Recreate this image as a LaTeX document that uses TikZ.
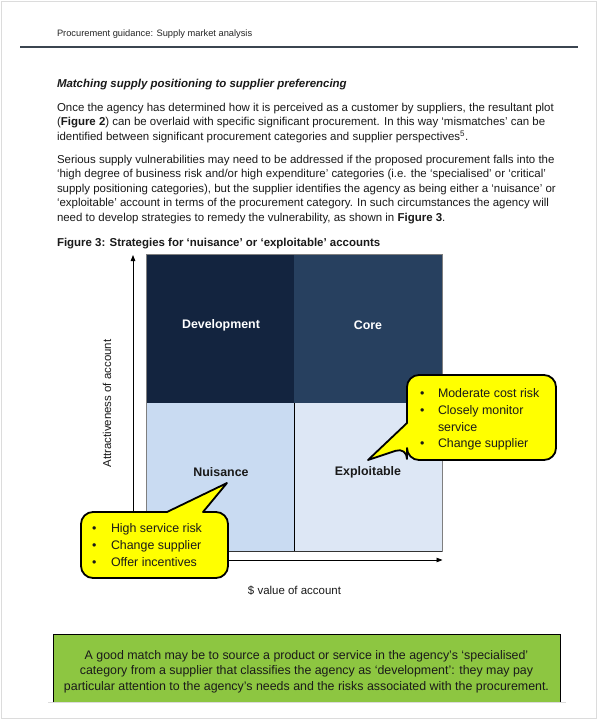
\documentclass[tikz,border=0pt]{standalone}
\usepackage{fontspec}
\setmainfont{Liberation Sans}
\usetikzlibrary{arrows.meta}
\definecolor{devc}{HTML}{13243F}
\definecolor{corec}{HTML}{27405F}
\definecolor{nuic}{HTML}{C9DBF2}
\definecolor{expc}{HTML}{DDE7F5}
\definecolor{calloutc}{HTML}{FFFF00}
\definecolor{greenc}{HTML}{8DC641}
\definecolor{rulec}{HTML}{3B4550}
\definecolor{framec}{HTML}{DCDCDC}
\definecolor{txt}{HTML}{1A1A1A}
\definecolor{quadborder}{HTML}{7F7F7F}
\begin{document}
\begin{tikzpicture}[x=1pt,y=-1pt,
  textline/.style={anchor=base west, inner sep=0pt, outer sep=0pt, text=txt, font=\fontsize{11.46}{13}\selectfont},
  headline/.style={textline, font=\fontsize{9.3}{11}\selectfont, text=black!85},
  calline/.style={anchor=base west, inner sep=0pt, outer sep=0pt, text=txt, font=\fontsize{12.4}{14}\selectfont},
  quadlabel/.style={inner sep=0pt, font=\bfseries\fontsize{12.4}{14}\selectfont},
  quad/.style={draw=none, inner sep=0pt, minimum width=147.5pt, minimum height=148pt},
  axisline/.style={draw=black, line width=0.8pt, -{Triangle[length=6pt,width=4.5pt]}},
  callout/.style={draw=black, fill=calloutc, line width=1.8pt, line join=round},
]
\useasboundingbox (0,0) rectangle (600,720);
\fill[white] (0,0) rectangle (600,720);
\draw[framec, line width=1pt] (1,1) rectangle (596.5,718);

% header
\node[headline] (hdr) at (57,36.5) {Procurement guidance: Supply market analysis};
\coordinate (ruleL) at (20,47);
\coordinate (ruleR) at (578,47);
\draw[rulec, line width=1.2pt] (ruleL) -- (ruleR);

% heading and paragraphs
\node[textline] (head) at (57,87) {\textbf{\textit{Matching supply positioning to supplier preferencing}}};
\node[textline] (p1a) at (57,111) {Once the agency has determined how it is perceived as a customer by suppliers, the resultant plot};
\node[textline] (p1b) at (57,125.5) {(\textbf{Figure 2}) can be overlaid with specific significant procurement. In this way ‘mismatches’ can be};
\node[textline] (p1c) at (57,140) {identified between significant procurement categories and supplier perspectives\textsuperscript{5}.};
\node[textline] (p2a) at (57,163) {Serious supply vulnerabilities may need to be addressed if the proposed procurement falls into the};
\node[textline] (p2b) at (57,177.5) {‘high degree of business risk and/or high expenditure’ categories (i.e. the ‘specialised’ or ‘critical’};
\node[textline] (p2c) at (57,192) {supply positioning categories), but the supplier identifies the agency as being either a ‘nuisance’ or};
\node[textline] (p2d) at (57,206.5) {‘exploitable’ account in terms of the procurement category. In such circumstances the agency will};
\node[textline] (p2e) at (57,221) {need to develop strategies to remedy the vulnerability, as shown in \textbf{Figure 3}.};
\node[textline] (cap) at (57,246) {\textbf{Figure 3: Strategies for ‘nuisance’ or ‘exploitable’ accounts}};

% quadrants
\node[quad, fill=devc] (qdev) at (220.5,329) {};
\node[quad, fill=corec] (qcore) at (368,329) {};
\node[quad, fill=nuic] (qnui) at (220.5,477) {};
\node[quad, fill=expc] (qexp) at (368,477) {};
\draw[quadborder, line width=0.9pt] (qdev.north west) rectangle (qexp.south east);
\draw[black, line width=0.8pt] (qnui.north east) -- (qnui.south east);
\draw[black!80, line width=0.9pt] (qnui.south west) -- (qexp.south east);

\node[quadlabel, text=white] (ldev) at (221,325) {Development};
\node[quadlabel, text=white] (lcore) at (368,325) {Core};
\node[quadlabel, text=txt] (lnui) at (221,472) {Nuisance};
\node[quadlabel, text=txt] (lexp) at (368,472) {Exploitable};

% axes
\coordinate (origin) at (133,560);
\coordinate (ytop) at (133,255);
\coordinate (xend) at (442.5,560);
\draw[axisline] (origin) -- (ytop);
\draw[axisline] (origin) -- (xend);
\node[inner sep=0pt, rotate=90, text=txt, font=\fontsize{11.46}{13}\selectfont] (ylab) at (107,403.5) {Attractiveness of account};
\node[inner sep=0pt, text=txt, font=\fontsize{11.46}{13}\selectfont] (xlab) at (294.5,591) {\$ value of account};

% callout 1 (exploitable)
\draw[callout, rounded corners=12pt] (480,375) -- (556,375) -- (556,460) -- (407,460) -- (407,447) [sharp corners] -- (368,460) -- (407,423) -- (407,400) [rounded corners=12pt] -- (407,375) -- cycle;
\node[calline] (b1a) at (420,397.5) {•};
\node[calline] (c1a) at (438,397.5) {Moderate cost risk};
\node[calline] (b1b) at (420,414.5) {•};
\node[calline] (c1b) at (438,414.5) {Closely monitor};
\node[calline] (c1c) at (438,431.5) {service};
\node[calline] (b1d) at (420,447.5) {•};
\node[calline] (c1d) at (438,447.5) {Change supplier};

% callout 2 (nuisance)
\draw[callout, rounded corners=12pt] (81,545) -- (81,512) -- (150,512) [sharp corners] -- (167,512) -- (227,483) -- (203,512) -- (215,512) [rounded corners=12pt] -- (228,512) -- (228,578) -- (81,578) -- cycle;
\node[calline] (b2a) at (92,532.5) {•};
\node[calline] (c2a) at (111,532.5) {High service risk};
\node[calline] (b2b) at (92,549.5) {•};
\node[calline] (c2b) at (111,549.5) {Change supplier};
\node[calline] (b2c) at (92,566.5) {•};
\node[calline] (c2c) at (111,566.5) {Offer incentives};

% green box
\fill[greenc] (53,634) rectangle (560,702);
\draw[black, line width=1pt] (53,702) -- (53,634) -- (560,634) -- (560,702);
\node[inner sep=0pt, align=center, text=txt, font=\fontsize{12.4}{15.5}\selectfont] (gtxt) at (306.5,671.5) {A good match may be to source a product or service in the agency’s ‘specialised’\\category from a supplier that classifies the agency as ‘development’: they may pay\\particular attention to the agency’s needs and the risks associated with the procurement.};
\draw[framec, line width=1pt] (48,702.5) -- (566,702.5);
\end{tikzpicture}
\end{document}
